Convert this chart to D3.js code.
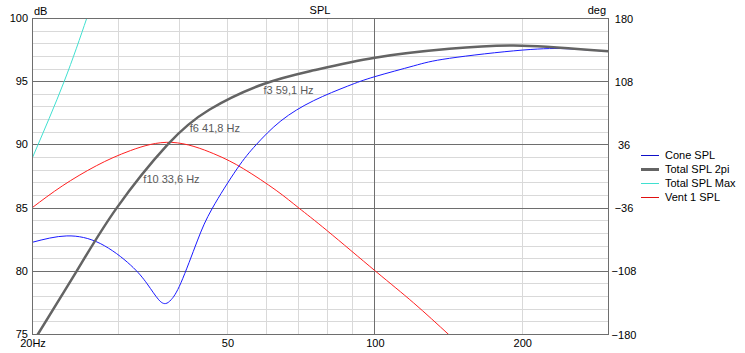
<!DOCTYPE html>
<html>
<head>
<meta charset="utf-8">
<script src="https://cdn.jsdelivr.net/npm/d3@7"></script>
<style>
  body { margin: 0; background: #fff; }
  svg { display: block; font-family: "Liberation Sans", Arial, sans-serif; font-size: 11px; }
</style>
</head>
<body>
<div id="chart"></div>
<script>
// values (Hz / dB)
const coneFreq = [20, 23.5, 27.5, 31.7, 34.3, 36.2, 37.4, 38.4, 40.2, 43.4, 46.6, 52.3, 57.2, 64.3, 75, 88, 100, 120, 142, 200, 250, 300];
const coneDb   = [82.3, 82.8, 82.2, 80.5, 79.0, 77.75, 77.45, 77.76, 79.1, 82.4, 85.0, 88.1, 90.0, 91.9, 93.5, 94.65, 95.4, 96.25, 96.85, 97.5, 97.6, 97.4];

const totalFreq = [20, 20.5, 24.6, 29.7, 37.7, 46, 59.1, 75, 100, 142, 200, 300];
const totalDb   = [74.3, 75, 80, 85, 90.0, 92.8, 94.8, 95.9, 96.9, 97.6, 97.85, 97.4];

const maxFreq = [20, 23.2, 25.8, 28];
const maxDb   = [89.0, 95.0, 100.0, 104.0];

const ventFreq = [20, 23, 27, 31.7, 38.5, 46.9, 54, 62.9, 70, 80, 100.4, 120, 141.5, 160];
const ventDb   = [85.05, 86.75, 88.35, 89.55, 90.2, 89.3, 88.1, 86.4, 85.0, 83.2, 80.0, 77.5, 75.0, 73.1];

const seriesNames = ["Cone SPL", "Total SPL 2pi", "Total SPL Max", "Vent 1 SPL"];

const fMarkLabels = ["f3 59,1 Hz", "f6 41,8 Hz", "f10 33,6 Hz"];
const fMarkFreq   = [59.1, 41.8, 33.6];
const fMarkDb     = [94.8, 91.8, 87.8];

const xLabelTicks = [20, 50, 100, 200];
const xLabelText  = ["20Hz", "50", "100", "200"];
const xMinorTicks = [30, 40, 50, 60, 70, 80, 90, 200];
const xMajorTicks = [100];
const yLabelTicks = [75, 80, 85, 90, 95, 100];
const yMajorTicks = [80, 85, 90, 95];
const degTicks    = [-180, -108, -36, 36, 108, 180];

// chart size
const W = 745, H = 353;
const margin = {top: 18.5, left: 32.5},
    width = 576,
    height = 316;

const svg = d3.select("#chart").append("svg")
    .attr("width", W)
    .attr("height", H);

const x = d3.scaleLog().domain([20, 300]).range([0, width]);
const y = d3.scaleLinear().domain([75, 100]).range([height, 0]);
const yDeg = d3.scaleLinear().domain([-180, 180]).range([height, 0]);

const px = v => Math.round(v);  // keep 1px grid lines crisp

const g = svg.append("g")
    .attr("transform", "translate(" + margin.left + "," + margin.top + ")");

// minor grid
const yMinor = d3.range(76, 100).filter(d => d % 5 !== 0);
g.append("g").selectAll("line")
  .data(yMinor)
  .join("line")
    .attr("x1", 0).attr("x2", width)
    .attr("y1", d => px(y(d))).attr("y2", d => px(y(d)))
    .attr("stroke", "#d9d9d9");

g.append("g").selectAll("line")
  .data(xMinorTicks)
  .join("line")
    .attr("x1", d => px(x(d))).attr("x2", d => px(x(d)))
    .attr("y1", 0).attr("y2", height)
    .attr("stroke", "#d9d9d9");

// major grid
g.append("g").selectAll("line")
  .data(yMajorTicks)
  .join("line")
    .attr("x1", 0).attr("x2", width)
    .attr("y1", d => px(y(d))).attr("y2", d => px(y(d)))
    .attr("stroke", "#6e6e6e");

g.append("g").selectAll("line")
  .data(xMajorTicks)
  .join("line")
    .attr("x1", d => px(x(d))).attr("x2", d => px(x(d)))
    .attr("y1", 0).attr("y2", height)
    .attr("stroke", "#6e6e6e");

// curves
g.append("clipPath").attr("id", "plotclip")
  .append("rect")
    .attr("x", 0).attr("y", 0)
    .attr("width", width).attr("height", height);

const line = d3.line()
    .x(d => x(d[0]))
    .y(d => y(d[1]))
    .curve(d3.curveNatural);

const curves = [
  {freq: ventFreq,  db: ventDb,  color: "#ff2020", w: 1},
  {freq: maxFreq,   db: maxDb,   color: "#40e0d0", w: 1},
  {freq: coneFreq,  db: coneDb,  color: "#1a1aff", w: 1},
  {freq: totalFreq, db: totalDb, color: "#646464", w: 2.5}
];

g.append("g").attr("clip-path", "url(#plotclip)")
  .selectAll("path")
  .data(curves)
  .join("path")
    .attr("fill", "none")
    .attr("stroke", d => d.color)
    .attr("stroke-width", d => d.w)
    .attr("d", d => line(d3.zip(d.freq, d.db)));

// frame
g.append("rect")
    .attr("x", 0).attr("y", 0)
    .attr("width", width).attr("height", height)
    .attr("fill", "none")
    .attr("stroke", "#6e6e6e");

// f-markers
g.append("g").selectAll("text")
  .data(d3.range(fMarkLabels.length))
  .join("text")
    .attr("x", i => x(fMarkFreq[i]) + 0.5)
    .attr("y", i => y(fMarkDb[i]) + 10)
    .attr("fill", "#5a5a5a")
    .text(i => fMarkLabels[i]);

// axes
const axisY = g.append("g")
    .call(d3.axisLeft(y).tickValues(yLabelTicks).tickSize(0).tickPadding(4.5));
axisY.select(".domain").remove();
axisY.selectAll("text").attr("dy", "0.28em");

const axisX = g.append("g")
    .attr("transform", "translate(0," + height + ")")
    .call(d3.axisBottom(x).tickValues(xLabelTicks).tickSize(0).tickPadding(5)
      .tickFormat((d, i) => xLabelText[i]));
axisX.select(".domain").remove();

const axisR = g.append("g")
    .attr("transform", "translate(" + width + ",0)")
    .call(d3.axisRight(yDeg).tickValues(degTicks).tickSize(0).tickFormat(d3.format("d")));
axisR.select(".domain").remove();
axisR.selectAll("text").attr("x", 15.5).attr("text-anchor", "middle");

svg.selectAll(".tick text")
    .attr("fill", "#000")
    .style("font-family", "\"Liberation Sans\", Arial, sans-serif")
    .style("font-size", "11px");

// titles
svg.append("text").attr("x", 320).attr("y", 14).attr("text-anchor", "middle").text("SPL");
svg.append("text").attr("x", 34).attr("y", 15).text("dB");
svg.append("text").attr("x", 606).attr("y", 14).attr("text-anchor", "end").text("deg");

// legend
const legendColors = ["#1010c8", "#646464", "#40e0d0", "#e01010"];
const legendWidths = [1, 3, 1, 1];
const legend = svg.append("g").attr("transform", "translate(641,155)");
const rows = legend.selectAll("g")
  .data(seriesNames)
  .join("g")
    .attr("transform", (d, i) => "translate(0," + (i * 14) + ")");
rows.append("line")
    .attr("x1", 0).attr("x2", 18)
    .attr("y1", 0.5).attr("y2", 0.5)
    .attr("stroke", (d, i) => legendColors[i])
    .attr("stroke-width", (d, i) => legendWidths[i]);
rows.append("text")
    .attr("x", 24).attr("dy", "0.35em")
    .text(d => d);
</script>
</body>
</html>
